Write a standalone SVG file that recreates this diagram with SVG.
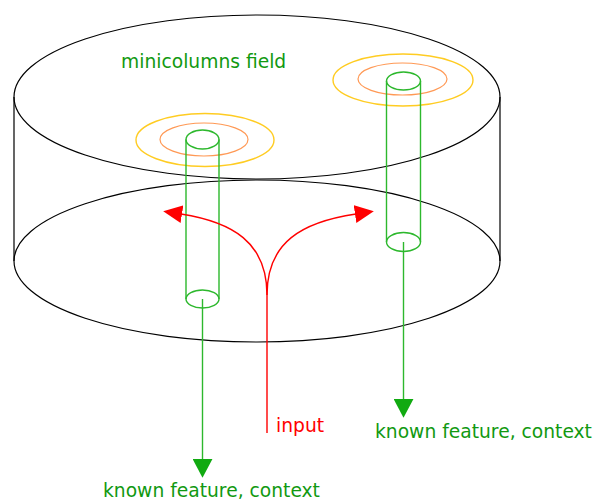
<svg xmlns="http://www.w3.org/2000/svg" width="594" height="501" viewBox="0 0 594 501">
<style>
.blk{fill:none;stroke:#000;stroke-width:1.2}
.col{fill:none;stroke:#2db82d;stroke-width:1.4}
.org{fill:none;stroke:#ff9955;stroke-width:1.2}
.yel{fill:none;stroke:#ffcc22;stroke-width:1.4}
.red{fill:none;stroke:#ff0000;stroke-width:1.4}
.gtx{font-family:"DejaVu Sans",sans-serif;font-size:18.7px;fill:#119911}
.rtx{font-family:"DejaVu Sans",sans-serif;font-size:18.7px;fill:#ff0000}
</style>
<defs>
<marker id="ar" markerUnits="userSpaceOnUse" markerWidth="20" markerHeight="20" refX="1" refY="9" orient="auto" viewBox="0 0 20 18">
<path d="M0,0 L19,9 L0,18 Z" fill="#ff0000"/>
</marker>
<marker id="ag" markerUnits="userSpaceOnUse" markerWidth="20" markerHeight="20" refX="1" refY="9" orient="auto" viewBox="0 0 18 18">
<path d="M0,0 L17,9 L0,18 Z" fill="#11aa11"/>
</marker>
</defs>
<g id="field">
<ellipse class="blk" cx="257" cy="97" rx="243" ry="82"/>
<path class="blk" d="M14,97 V261 M500,97 V261"/>
<ellipse class="blk" cx="257" cy="261" rx="243" ry="81"/>
</g>
<g id="column-left">
<ellipse class="yel" cx="205" cy="140" rx="69" ry="26.5"/>
<ellipse class="org" cx="204" cy="139.5" rx="44" ry="16.5"/>
<ellipse class="col" cx="202.5" cy="139.5" rx="16.5" ry="9.5"/>
<path class="col" d="M186,139.5 V299 M219,139.5 V299"/>
<ellipse class="col" cx="202.5" cy="299" rx="16.5" ry="9"/>
</g>
<g id="column-right">
<ellipse class="yel" cx="403" cy="80" rx="70" ry="26"/>
<ellipse class="org" cx="402.5" cy="79" rx="44.5" ry="16"/>
<ellipse class="col" cx="403.5" cy="81" rx="17" ry="9"/>
<path class="col" d="M386.5,81 V242 M420.5,81 V242"/>
<ellipse class="col" cx="403.5" cy="242" rx="17" ry="9.5"/>
</g>
<g id="connectors">
<path class="col" d="M202.5,299 V460" marker-end="url(#ag)"/>
<path class="col" d="M403.5,242 V400" marker-end="url(#ag)"/>
<path class="red" d="M267,433 V295 C267,242 232,222 181,214" marker-end="url(#ar)"/>
<path class="red" d="M267,295 C267,242 302,222 356,214" marker-end="url(#ar)"/>
</g>
<g id="labels">
<text class="gtx" x="121" y="68">minicolumns field</text>
<text class="rtx" x="276" y="432">input</text>
<text class="gtx" x="375" y="438">known feature, context</text>
<text class="gtx" x="103" y="497">known feature, context</text>
</g>
</svg>
